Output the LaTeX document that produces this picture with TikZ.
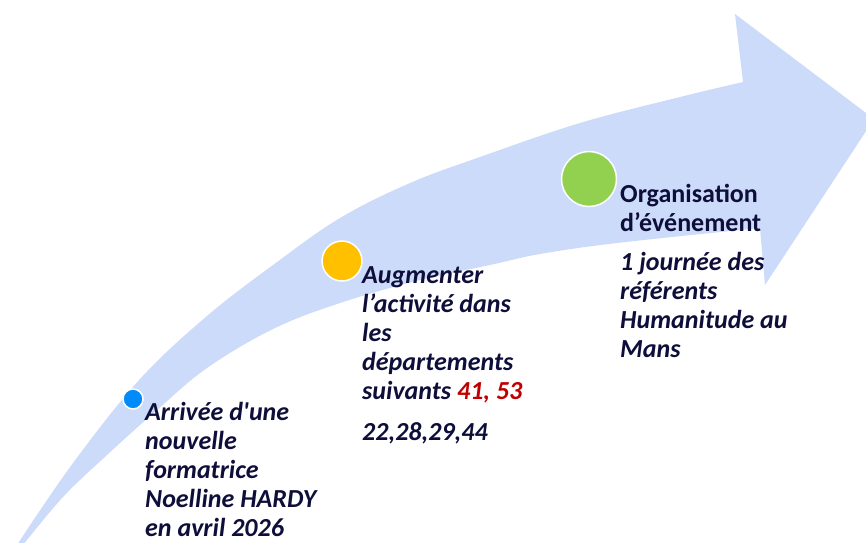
\documentclass[tikz,border=0pt]{standalone}
\usepackage{fontspec}
\setmainfont{Carlito}
\definecolor{bandblue}{RGB}{204,219,250}
\definecolor{dotblue}{RGB}{0,138,250}
\definecolor{dotyellow}{RGB}{255,192,0}
\definecolor{dotgreen}{RGB}{146,208,80}
\definecolor{navy}{RGB}{14,14,58}
\definecolor{darkred}{RGB}{192,0,0}
\tikzset{
  milestone/.style={circle, draw=white, line width=1.5pt, inner sep=0pt},
  step label/.style={anchor=base west, align=left, inner sep=0pt, text=navy,
    font=\bfseries\fontsize{26}{29}\selectfont}
}
\begin{document}
\begin{tikzpicture}[x=1pt,y=-1pt]
    \useasboundingbox (0,0) rectangle (866,542);
    \clip (0,0) rectangle (866,542);

    % Arrow
    \fill[bandblue] plot[smooth, tension=0.6] coordinates {(17,545) (73,463) (140,379) (207,316) (273,265) (340,218) (410,183) (480,157) (580,123) (680,97) (743,82)}
        -- (735,14) -- (874,119) -- (765,285) -- (760,228)
        -- plot[smooth, tension=0.6] coordinates {(760,228) (617,243) (540,254) (490,265) (420,280) (340,303) (273,329) (207,368) (157,410) (107,455) (63,497) (23,545)}
        -- cycle;

    % Milestones
    \node[milestone, fill=dotblue, minimum size=20pt] (dot1) at (133,399) {};
    \node[milestone, fill=dotyellow, minimum size=40pt] (dot2) at (342,261) {};
    \node[milestone, fill=dotgreen, minimum size=55pt] (dot3) at (589,179) {};

    % Labels (anchored at the baseline of the last line)
    \node[step label] (step1) at (145,536) {\itshape Arrivée d\textquotesingle une\\ \itshape nouvelle\\ \itshape formatrice\\ \itshape Noelline HARDY\\ \itshape en avril 2026};
    \node[step label] (step2) at (362,440) {\itshape Augmenter\\ \itshape l’activité dans\\ \itshape les\\ \itshape départements\\ \itshape suivants {\color{darkred}41, 53}\\[12pt] \itshape 22,28,29,44};
    \node[step label] (step3) at (620,357) {Organisation\\ d’événement\\[10pt] \itshape 1 journée des\\ \itshape référents\\ \itshape Humanitude au\\ \itshape Mans};
\end{tikzpicture}
\end{document}
